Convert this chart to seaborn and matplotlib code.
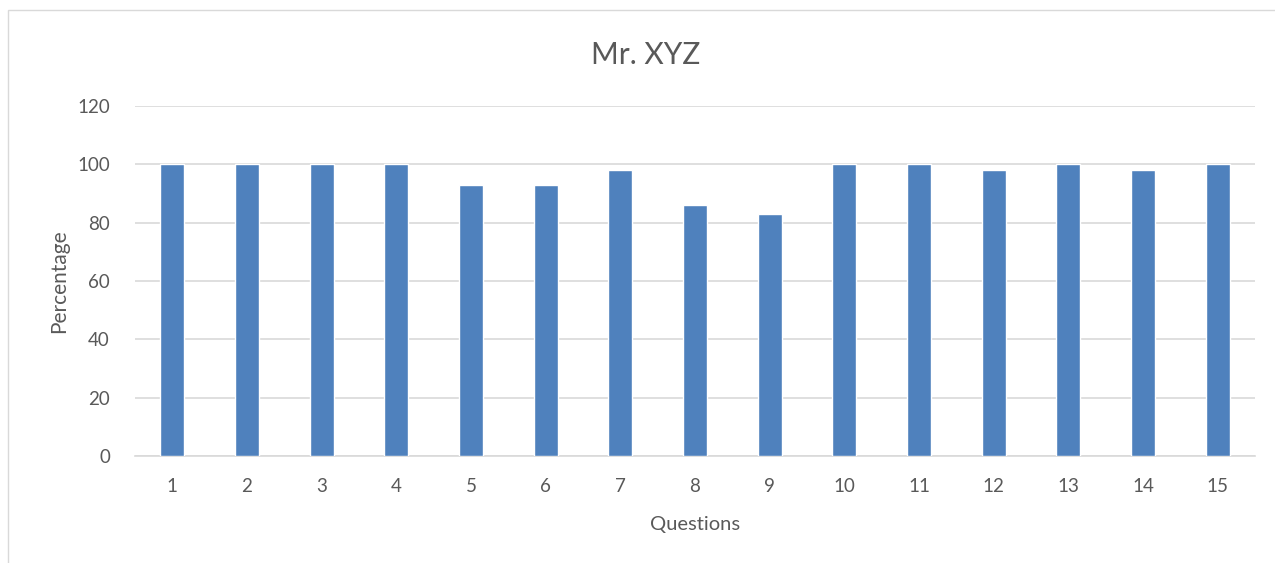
import matplotlib
matplotlib.use("Agg")
import matplotlib.pyplot as plt
import seaborn as sns
import pandas as pd
from matplotlib.patches import Rectangle

questions = [str(i) for i in range(1, 16)]
percentages = [100, 100, 100, 100, 93, 93, 98, 86, 83, 100, 100, 98, 100, 98, 100]

sns.set_theme(style="white")
plt.rcParams['font.family'] = ['Lato', 'DejaVu Sans']

df = pd.DataFrame({"Questions": questions, "Percentage": percentages})

fig = plt.figure(figsize=(12.75, 5.63), dpi=100)
ax = fig.add_axes([135/1275, 1 - 456/563, (1255 - 135)/1275, (456 - 106)/563])

text_color = "#595959"
sns.barplot(data=df, x="Questions", y="Percentage", color="#4F81BD",
            width=0.32, saturation=1, ax=ax, zorder=3)

ax.set_ylim(0, 120)
ax.set_xlim(-0.5, 14.5)
ax.set_yticks(range(0, 121, 20))
ax.yaxis.grid(True, color="#D9D9D9", linewidth=1.2, zorder=0)
ax.set_axisbelow(True)
for s in ["top", "right", "left"]:
    ax.spines[s].set_visible(False)
ax.spines["bottom"].set_color("#D9D9D9")
ax.spines["bottom"].set_linewidth(1.2)
ax.tick_params(axis="both", length=0, labelsize=13.5, colors=text_color)
ax.tick_params(axis="x", pad=16)
ax.tick_params(axis="y", pad=18)
ax.set_xlabel("Questions", fontsize=14.5, color=text_color, labelpad=15)
ax.set_ylabel("Percentage", fontsize=15, color=text_color, labelpad=6)

fig.text(646/1275, 1 - 55/563, "Mr. XYZ", ha="center", va="center",
         fontsize=21.5, color=text_color)

fig.patches.append(Rectangle((8/1275, -0.01), 1.0, 1 - 10/563 + 0.01, transform=fig.transFigure,
                             fill=False, edgecolor="#D9D9D9", linewidth=1))

fig.savefig("out.png", dpi=100)
